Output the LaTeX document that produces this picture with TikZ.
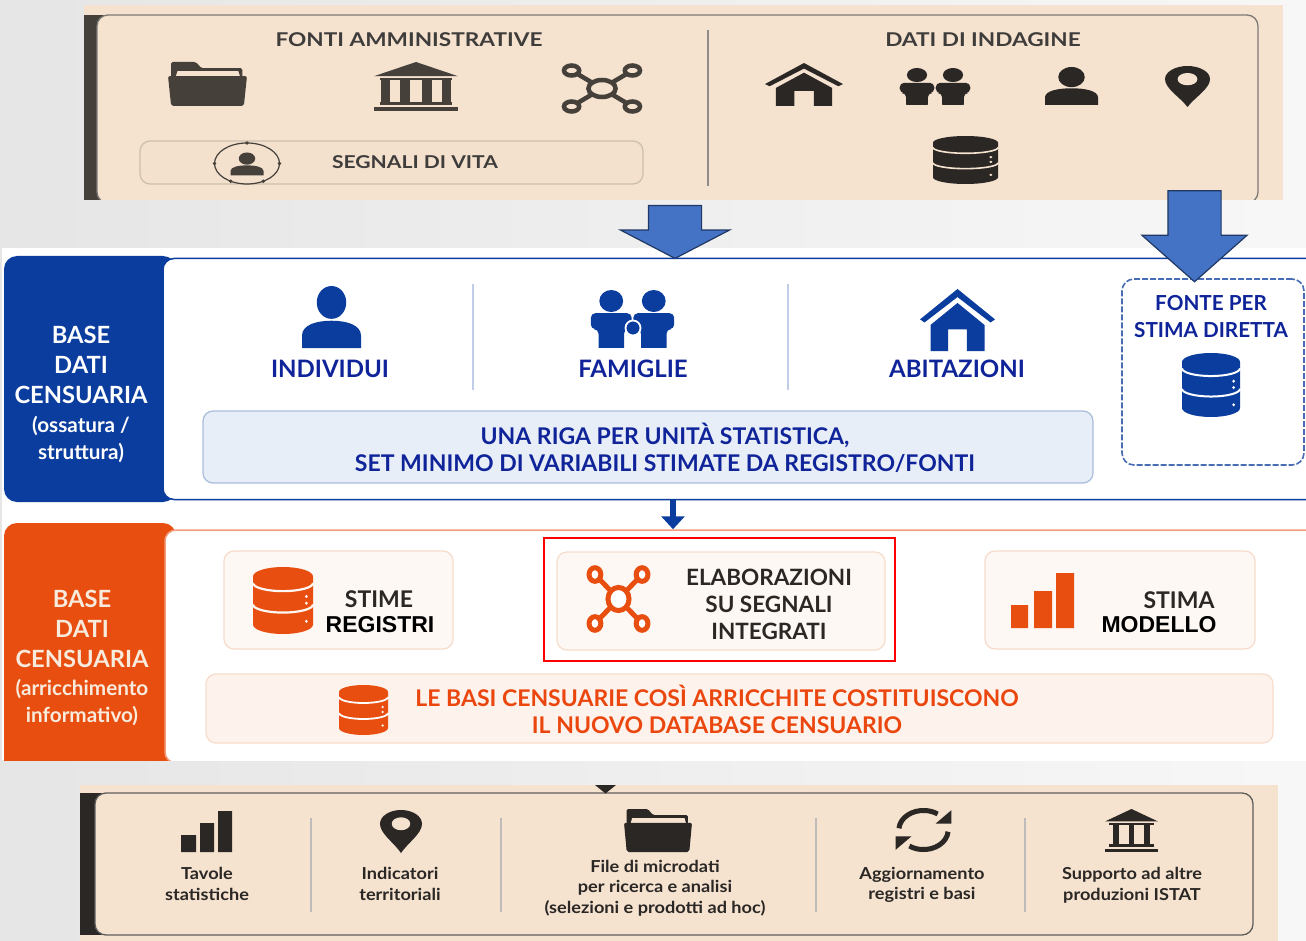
\documentclass[tikz,border=0pt]{standalone}
\usepackage{xcolor}
\usepackage{fontspec}
\setmainfont{Lato}
\newfontfamily\widefont[BoldFeatures={FakeStretch=1.19}]{Lato}
\newfontfamily\lowfont[BoldFeatures={FakeStretch=1.1}]{Lato}
\newfontfamily\narrowfont{Liberation Sans}
\usetikzlibrary{shapes.arrows,arrows.meta}
\definecolor{beige}{HTML}{F5E2CF}
\definecolor{beigebox}{HTML}{F3E0CD}
\definecolor{beigeedge}{HTML}{CDBFAD}
\definecolor{darkicon}{HTML}{45403A}
\definecolor{blackicon}{HTML}{2A2725}
\definecolor{bandblue}{HTML}{0B3D9E}
\definecolor{navytxt}{HTML}{10249A}
\definecolor{rigafill}{HTML}{E8EEF8}
\definecolor{rigaedge}{HTML}{A9BCDC}
\definecolor{bandorange}{HTML}{E84E0F}
\definecolor{softfill}{HTML}{FDF8F4}
\definecolor{softwide}{HTML}{FDF3EC}
\definecolor{softedge}{HTML}{F7DCCB}
\definecolor{arrowblue}{HTML}{4472C4}
\definecolor{arrowedge}{HTML}{1F3864}
\colorlet{icofg}{black}
\colorlet{icobg}{white}
\def\icolw{4pt}
\tikzset{
  x=1pt,y=-1pt,
  icolor/.code={\colorlet{icofg}{#1}},
  ibg/.code={\colorlet{icobg}{#1}},
  ilw/.code={\def\icolw{#1}},
  box/.style={rectangle,rounded corners=#1,inner sep=0pt},
  panel/.style={box=11pt,fill=beige,draw=#1,line width=1.3pt},
  whitepanel/.style={box=11pt,fill=white,draw=#1,line width=1.5pt},
  bandbox/.style={box=13pt,fill=#1},
  softbox/.style={box=10pt,fill=#1,draw=softedge,line width=1.2pt},
  divider/.style={draw=#1,line width=1.3pt},
  toptitle/.style={inner sep=0pt,text=blackicon!90!white,font=\widefont\fontsize{19}{23}\selectfont\bfseries},
  bandtxt/.style={inner sep=0pt,text=#1,align=center,font=\fontsize{23.7}{30}\selectfont\bfseries},
  bandsub/.style={inner sep=0pt,text=#1,align=center,font=\fontsize{20.7}{27}\selectfont\bfseries},
  bluetxt/.style={inner sep=0pt,text=navytxt,align=center,font=\fontsize{23}{27}\selectfont\bfseries},
  labeltxt/.style={inner sep=0pt,text=navytxt,font=\fontsize{24}{27}\selectfont\bfseries},
  orangetxt/.style={inner sep=0pt,text=bandorange!90!red,align=center,font=\fontsize{23}{27}\selectfont\bfseries},
  blacktxt/.style={inner sep=0pt,text=black,font=\narrowfont\fontsize{23}{26}\selectfont\bfseries},
  stimatxt/.style={inner sep=0pt,text=blackicon,font=\fontsize{23}{26}\selectfont\bfseries},
  darktxt/.style={inner sep=0pt,text=blackicon,align=center,font=\fontsize{22.5}{27}\selectfont\bfseries},
  lowtxt/.style={inner sep=0pt,text=blackicon,align=center,font=\lowfont\fontsize{16.5}{20.5}\selectfont\bfseries},
  bigarrow/.style={single arrow,draw=arrowedge,fill=arrowblue,line width=1.2pt,rotate=-90,inner xsep=0pt,single arrow head indent=0pt},
  pics/folder/.style={code={
    \fill[icofg,rounded corners=1.5pt] (-.92,-.3) -- (-.92,-1) -- (-.3,-1) -- (-.15,-.72) -- (.88,-.72) -- (.88,-.3) -- cycle;
    \fill[icobg] (-.8,-.36) -- (-.76,-.58) -- (.78,-.58) -- (.82,-.36) -- cycle;
    \fill[icofg,rounded corners=2pt] (-1,-.36) -- (1,-.36) -- (.92,1) -- (-.92,1) -- cycle;
  }},
  pics/bank/.style={code={
    \fill[icofg] (-1,-.42) -- (0,-1) -- (1,-.42) -- cycle;
    \fill[icofg] (-.85,-.33) rectangle (.85,-.25);
    \foreach \px in {#1} \fill[icofg] (\px-.11,-.25) rectangle (\px+.11,.62);
    \fill[icofg] (-.85,.62) rectangle (.85,.75);
    \fill[icofg] (-1,.84) rectangle (1,1);
  }},
  pics/network/.style={code={
    \draw[icofg,line width=\icolw] (-.76,-.72) -- (.76,.72) (.76,-.72) -- (-.76,.72);
    \foreach \px/\py in {-.76/-.72,.76/-.72,-.76/.72,.76/.72}
      \draw[icofg,fill=icobg,line width=\icolw] (\px,\py) circle[x radius=.19,y radius=.2];
    \draw[icofg,fill=icobg,line width=\icolw] (0,0) circle[x radius=.34,y radius=.34];
  }},
  pics/database/.style={code={
    \fill[icofg] (-1,-.72) -- (-1,.72) arc[start angle=180,end angle=0,x radius=1,y radius=.28] -- (1,-.72) arc[start angle=0,end angle=-180,x radius=1,y radius=.28] -- cycle;
    \draw[icobg,line width=\icolw] (-1,-.52) arc[start angle=180,end angle=0,x radius=1,y radius=.24];
    \draw[icobg,line width=\icolw] (-1,.12) arc[start angle=180,end angle=0,x radius=1,y radius=.24];
    \foreach \py in {-.12,.08,.62} \fill[icobg] (.78,\py) circle[x radius=.05,y radius=.05];
  }},
  pics/person/.style={code={
    \fill[icofg] (0,-.47) circle[x radius=.5,y radius=.53];
    \fill[icofg] (-1,1) -- (-1,.6) .. controls (-1,.25) and (-.5,.12) .. (0,.12) .. controls (.5,.12) and (1,.25) .. (1,.6) -- (1,1) -- cycle;
  }},
  pics/couple/.style={code={
    \foreach \cx in {-.5,.5} {
      \fill[icofg] (\cx,-.62) circle[x radius=.28,y radius=.38];
      \fill[icofg,rounded corners=4.5pt] (\cx-.48,.35) -- (\cx-.48,-.2) -- (\cx+.48,-.2) -- (\cx+.48,.35) -- (\cx+.3,.35) -- (\cx+.3,1.2) -- (\cx-.3,1.2) -- (\cx-.3,.35) -- cycle;
      \fill[icobg] (\cx-.5,1) rectangle (\cx+.5,1.25);
    }
  }},
  pics/house/.style={code={
    \fill[icofg] (-1,-.02) -- (0,-1) -- (1,-.02) -- (.88,.08) -- (0,-.74) -- (-.88,.08) -- cycle;
    \fill[icofg] (-.72,.16) -- (0,-.55) -- (.72,.16) -- (.72,1) -- (.25,1) -- (.25,.3) -- (-.25,.3) -- (-.25,1) -- (-.72,1) -- cycle;
  }},
  pics/pin/.style={code={
    \fill[icofg] (0,1) .. controls (-.35,.5) and (-1,.1) .. (-1,-.36) arc[start angle=180,end angle=360,x radius=1,y radius=.64] .. controls (1,.1) and (.35,.5) .. (0,1) -- cycle;
    \fill[icobg] (0,-.36) circle[x radius=.44,y radius=.3];
  }},
  pics/refresh/.style={code={
    \draw[icofg,line width=\icolw] (185:.85) arc[start angle=185,end angle=305,radius=.85];
    \draw[icofg,line width=\icolw] (5:.85) arc[start angle=5,end angle=125,radius=.85];
    \fill[icofg] (.96,-.86) -- (.96,-.28) -- (.42,-.28) -- cycle;
    \fill[icofg] (-.96,.86) -- (-.96,.28) -- (-.42,.28) -- cycle;
  }},
}
\begin{document}
\begin{tikzpicture}
\path[use as bounding box,clip] (0,0) rectangle (1306,941);
\shade[left color=black!10,right color=black!3] (0,0) rectangle (1306,941);

\begin{scope}
\clip (84,5) rectangle (1283,200);
\fill[beige] (84,5) rectangle (1283,200);
\fill[darkicon] (84,15) rectangle (115,200);
\node at (677.5,109) [panel=darkicon!70,minimum width=1161,minimum height=188] (toppanel) {};
\end{scope}
\node at (409,40) [toptitle] (fonti) {FONTI AMMINISTRATIVE};
\node at (983,40) [toptitle] (indagine) {DATI DI INDAGINE};
\draw[divider=darkicon!60] (708,30) -- (708,186);
\pic[xscale=39.5,yscale=22,icolor=darkicon,ibg=beige] at (207.5,84) {folder};
\pic[xscale=42,yscale=24.5,icolor=darkicon] at (416,86.5) {bank={-.72,-.26,.26,.72}};
\pic[xscale=40,yscale=25,icolor=darkicon,ibg=beige,ilw=4.5pt] at (602,88.5) {network};
\node at (391.5,162.5) [softbox=beigebox,draw=beigeedge,minimum width=503,minimum height=43] (segnalibox) {};
\draw[darkicon,line width=1.2pt] (247,163.5) ellipse[x radius=32.5,y radius=20.5];
\foreach \ang in {0,60,120,180,270}
  \fill[darkicon] (247,163.5) ++(\ang:32.5 and 20.5) circle[radius=1.8];
\pic[xscale=16.5,yscale=11.5,icolor=darkicon] at (247,164) {person};
\node at (415,162) [toptitle,font=\widefont\fontsize{17.7}{21}\selectfont\bfseries] (segnali) {SEGNALI DI VITA};
\pic[xscale=39,yscale=21.5,icolor=blackicon] at (804,84.5) {house};
\pic[xscale=36,yscale=18.5,icolor=blackicon,ibg=beige] at (935,86.5) {couple};
\pic[xscale=26.5,yscale=19,icolor=blackicon] at (1071.5,86) {person};
\pic[xscale=22.5,yscale=20.5,icolor=blackicon,ibg=beige] at (1187.5,86.5) {pin};
\pic[xscale=32.5,yscale=24,icolor=blackicon,ibg=beige,ilw=1.6pt] at (965.5,160) {database};

\fill[white] (2,248) rectangle (1306,760);
\node at (90,379) [bandbox=bandblue,minimum width=172,minimum height=246] (bandblue) {};
\node at (747,379) [whitepanel=bandblue,minimum width=1168,minimum height=241] (bluepanel) {};
\node at (81,365) [bandtxt=white] (basea) {BASE\\DATI\\CENSUARIA};
\node at (81,440) [bandsub=white] (basesuba) {(ossatura /\\struttura)};
\draw[divider=bandblue!25] (473,284) -- (473,390);
\draw[divider=bandblue!25] (788,284) -- (788,390);
\pic[xscale=29.5,yscale=31,icolor=bandblue] at (331.5,317) {person};
\node at (330,369) [labeltxt] (individui) {INDIVIDUI};
\pic[xscale=42.5,yscale=29,icolor=bandblue,ibg=white] at (632.5,319) {couple};
\draw[white,fill=bandblue,line width=1.8pt] (633,328) circle[radius=7.5];
\node at (633,369) [labeltxt] (famiglie) {FAMIGLIE};
\pic[xscale=37.5,yscale=31,icolor=bandblue] at (957.5,320) {house};
\node at (957,369) [labeltxt] (abitazioni) {ABITAZIONI};
\node at (1213,372) [box=12pt,draw=bandblue!75,dash pattern=on 6pt off 2pt,line width=1.6pt,minimum width=182,minimum height=186] (direttabox) {};
\node at (1211,317) [bluetxt,font=\fontsize{20.7}{27}\selectfont\bfseries] (diretta) {FONTE PER\\STIMA DIRETTA};
\pic[xscale=29,yscale=32,icolor=bandblue,ibg=white,ilw=2pt] at (1211,385) {database};
\node at (648,447) [softbox=rigafill,draw=rigaedge,minimum width=890,minimum height=72] (rigabox) {};
\node at (665,447.5) [bluetxt] (riga) {UNA RIGA PER UNITÀ STATISTICA,\\SET MINIMO DI VARIABILI STIMATE DA REGISTRO/FONTI};

\begin{scope}
\clip (0,0) rectangle (1306,760);
\node at (90,649) [bandbox=bandorange,minimum width=172,minimum height=252] (bandorange) {};
\node at (748,646.5) [whitepanel=bandorange!55,minimum width=1166,minimum height=233] (orangepanel) {};
\end{scope}
\node at (82,629) [bandtxt=beige!70!white] (baseb) {BASE\\DATI\\CENSUARIA};
\node at (82,703) [bandsub=beige!70!white] (basesubb) {(arricchimento\\informativo)};
\coordinate (smallx) at (673,0);
\draw[bandblue,line width=6pt,-{Triangle[width=23pt,length=13pt]}] (smallx |- bluepanel.south) -- (smallx |- orangepanel.north);

\node at (338.5,600) [softbox=softfill,minimum width=229,minimum height=98] (stimebox) {};
\pic[xscale=30,yscale=33.5,icolor=bandorange,ibg=softfill,ilw=2.2pt] at (283,600.5) {database};
\node at (379,599) [stimatxt] (stime) {STIME};
\node at (380,625) [blacktxt] (registri) {REGISTRI};
\node at (721,601) [softbox=softfill,minimum width=328,minimum height=98] (elabbox) {};
\pic[xscale=31,yscale=34,icolor=bandorange,ibg=white,ilw=5pt] at (618.5,599) {network};
\node at (769,604) [darktxt] (elab) {ELABORAZIONI\\SU SEGNALI\\INTEGRATI};
\node at (719.5,599.5) [rectangle,draw=red,line width=2.4pt,minimum width=351,minimum height=123] (elabmark) {};
\node at (1120,600) [softbox=softfill,minimum width=270,minimum height=98] (modellobox) {};
\fill[bandorange] (1011,605) rectangle (1028,628) (1034,591) rectangle (1052,628) (1056,573) rectangle (1074,628);
\node at (1179,600) [stimatxt] (stima) {STIMA};
\node at (1159,625) [blacktxt] (modello) {MODELLO};
\node at (739.5,708.5) [softbox=softwide,minimum width=1067,minimum height=69] (nuovobox) {};
\pic[xscale=24.5,yscale=25,icolor=bandorange,ibg=white,ilw=1.8pt] at (363.5,710) {database};
\node at (717,709) [orangetxt] (nuovo) {LE BASI CENSUARIE COSÌ ARRICCHITE COSTITUISCONO\\IL NUOVO DATABASE CENSUARIO};

\begin{scope}
\clip (80,785) rectangle (1278,941);
\fill[beige] (80,785) rectangle (1278,941);
\fill[blackicon] (80,793) rectangle (110,935);
\node at (674,864) [panel=blackicon!75,minimum width=1158,minimum height=142] (lowpanel) {};
\fill[blackicon] (595,785) -- (616,785) -- (605.5,793.5) -- cycle;
\end{scope}
\foreach \dx in {311,501,816,1025}
  \draw[divider=darkicon!35] (\dx,818) -- (\dx,912);
\fill[blackicon] (181,835) rectangle (196,852) (200,823) rectangle (214,852) (218,811) rectangle (232,852);
\pic[xscale=21,yscale=21.5,icolor=blackicon,ibg=beige] at (401,831.5) {pin};
\pic[xscale=34,yscale=21.5,icolor=blackicon,ibg=beige] at (658,830.5) {folder};
\pic[xscale=29,yscale=23,icolor=blackicon,ilw=5pt] at (923.5,830) {refresh};
\pic[xscale=26.5,yscale=21.5,icolor=blackicon] at (1131.5,830.5) {bank={-.58,0,.58}};
\node at (207,884) [lowtxt] (tavole) {Tavole\\statistiche};
\node at (400,884) [lowtxt] (indicatori) {Indicatori\\territoriali};
\node at (655,888) [lowtxt] (microdati) {File di microdati\\per ricerca e analisi\\(selezioni e prodotti ad hoc)};
\node at (922,885) [lowtxt] (aggiornamento) {Aggiornamento\\registri e basi};
\node at (1132,885) [lowtxt] (supporto) {Supporto ad altre\\produzioni ISTAT};

\node at (675,225) [bigarrow,minimum height=53,minimum width=108,inner ysep=26pt,single arrow tip angle=125,single arrow head extend=28pt] (arrowa) {};
\node at (1194.5,224.5) [bigarrow,minimum height=91,minimum width=104,inner ysep=26pt,single arrow tip angle=97,single arrow head extend=26pt] (arrowb) {};
\end{tikzpicture}
\end{document}
